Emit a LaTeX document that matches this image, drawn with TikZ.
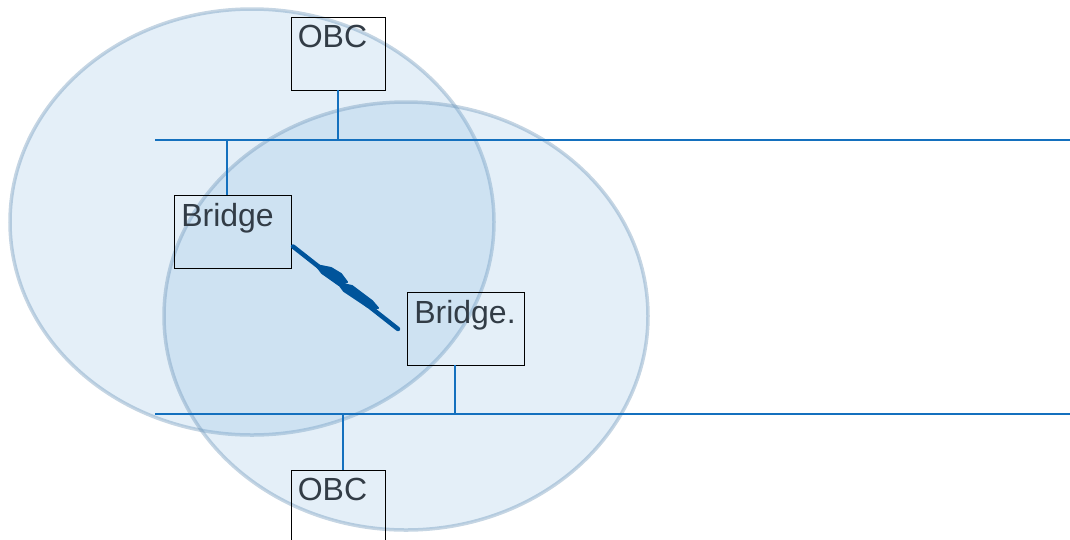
\documentclass[tikz,border=0pt]{standalone}
\usepackage{fontspec}
\setmainfont{Liberation Sans}
\definecolor{busblue}{RGB}{20,112,190}
\definecolor{cellfill}{RGB}{120,175,220}
\definecolor{celledge}{RGB}{110,150,185}
\definecolor{boltblue}{RGB}{0,84,155}
\definecolor{labgray}{RGB}{50,60,70}
\begin{document}
\begin{tikzpicture}[x=1pt,y=-1pt,
  cell/.style={fill=cellfill,fill opacity=0.2,draw=celledge,draw opacity=0.4,line width=3.5pt},
  bus/.style={draw=busblue,line width=1.3pt},
  unit/.style={draw=black,line width=0.8pt,minimum width=94pt,minimum height=73pt,inner sep=0pt},
  wideunit/.style={unit,minimum width=117pt},
  lab/.style={anchor=north west,inner sep=0pt,font=\fontsize{32}{32}\selectfont,text=labgray,xshift=7pt,yshift=-8.5pt},
  bolt/.style={draw=boltblue,line cap=round,line join=round},
  boltpart/.style={fill=boltblue,draw=boltblue,line width=2pt,line join=round}]
\useasboundingbox (0,0) rectangle (1070,539);
\clip (0,0) rectangle (1070,539);

% radio coverage cells
\path[cell] (252,222) ellipse [x radius=242, y radius=213];
\path[cell] (406,316) ellipse [x radius=242, y radius=214];

% bus lines
\coordinate (topL) at (155,140);
\coordinate (topR) at (1070,140);
\coordinate (botL) at (155,414);
\coordinate (botR) at (1070,414);
\draw[bus] (topL) -- (topR);
\draw[bus] (botL) -- (botR);

% units
\node[unit, label={[lab]north west:OBC}] (obcT) at (338,53.5) {};
\node[wideunit, label={[lab]north west:Bridge}] (brA) at (233,231.5) {};
\node[wideunit, label={[lab]north west:Bridge.}] (brB) at (466,328.5) {};
\node[unit, label={[lab]north west:OBC}] (obcB) at (338,506.5) {};

% drops to the buses
\draw[bus] (obcT.south) -- (obcT.south |- topL);
\draw[bus] ([xshift=-6pt]brA.north) -- ([xshift=-6pt]brA.north |- topL);
\draw[bus] ([xshift=-11pt]brB.south) -- ([xshift=-11pt]brB.south |- botL);
\draw[bus] ([xshift=5pt]obcB.north) -- ([xshift=5pt]obcB.north |- botL);

% wireless link between the bridges
\coordinate (boltS) at (293,246.5);
\coordinate (boltE) at (398,329);
\draw[bolt,line width=4.5pt] (boltS) -- (boltE);
\draw[boltpart] (316,265) -- (331,268) -- (341,274) -- (347,282) -- (339,285) -- (322,273) -- cycle;
\draw[boltpart] (338,283) -- (352,286) -- (372,301) -- (378,308) -- (368,307) -- (344,291) -- cycle;
\end{tikzpicture}
\end{document}
